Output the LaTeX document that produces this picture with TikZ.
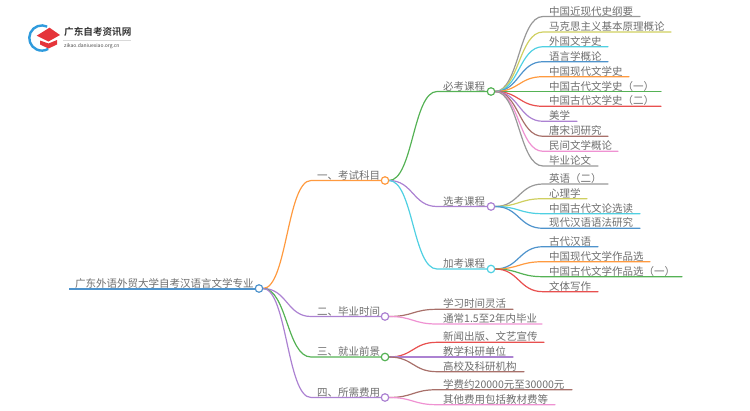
\documentclass[tikz,border=0pt]{standalone}
\usepackage{fontspec}
\setmainfont{Noto Sans CJK SC}[BoldFont={Noto Sans CJK SC Bold}]
\usetikzlibrary{calc}
\definecolor{cgray}{HTML}{989898}
\definecolor{cyel}{HTML}{CFCF60}
\definecolor{ccyan}{HTML}{4FD0E2}
\definecolor{cblue}{HTML}{4E93CC}
\definecolor{corange}{HTML}{FF9A3F}
\definecolor{cgreen}{HTML}{55B255}
\definecolor{cred}{HTML}{E8504F}
\definecolor{cpurple}{HTML}{AC82D2}
\definecolor{cbrown}{HTML}{A8706A}
\definecolor{cpink}{HTML}{EF92D2}
\definecolor{ctext}{HTML}{6E6E6E}
\definecolor{logored}{HTML}{E5343A}
\definecolor{logoblue}{HTML}{2F9BDD}
\tikzset{
  label text/.style={inner sep=0pt,anchor=base west,text=ctext,font=\fontsize{10.5pt}{12pt}\selectfont},
  joint/.style={circle,draw=#1,fill=white,line width=1.2pt,minimum size=7.5pt,inner sep=0pt},
  branch/.style={line width=1.2pt,line cap=round},
  wide branch/.style={line width=2pt},
}
% parent, name, y, end x, colour, text
\newcommand{\twig}[6]{%
  \path (#1) ++(4,0) coordinate (#2-s);
  \path (#1) ++(52,0) coordinate (#2-m);
  \coordinate (#2-a) at (#2-m |- 0,#3);
  \coordinate (#2-e) at (#4,#3);
  \node[label text] (#2) at ($(#2-a)+(6,-1.4)$) {#6};
  \draw[branch,#5] (#2-s) .. controls ($(#2-s)!0.5!(#2-m)$) and ($(#2-s |- #2-a)!0.5!(#2-a)$) .. (#2-a) -- (#2-e);
}
\begin{document}
\begin{tikzpicture}[x=1pt,y=-1pt]
\useasboundingbox (0,0) rectangle (750,410);
% logo
\draw[logoblue,line width=2.4pt] (47.2,26.6) arc[start angle=-65,end angle=-300,radius=12.6];
\fill[logored] (40,40.5) -- (48.5,43.5) -- (57,40) -- (57,44.5) -- (48.5,48.5) -- (40,44.5) -- cycle;
\fill[logored] (36.7,35.7) -- (49.5,27.7) -- (60,35) -- (48.5,41.5) -- cycle;
\node[inner sep=0pt,anchor=west,text=black!80,font=\fontsize{9.6pt}{11pt}\selectfont\bfseries] (logotitle) at (64,31.5) {广东自考资讯网};
\coordinate (rulea) at (63,40);
\coordinate (ruleb) at (131,40);
\draw[black!15,line width=0.5pt] (rulea) -- (ruleb);
\node[inner sep=0pt,anchor=west,text=black!70,font=\fontsize{5pt}{6pt}\selectfont] (logourl) at (64,46.3) {zikao.daniuexiao.org.cn};
% hubs
\coordinate (root) at (259,288.5);
\coordinate (rootstart) at (69,288.5);
\coordinate (one) at (385,180.5);
\coordinate (two) at (385,316.5);
\coordinate (three) at (385,357);
\coordinate (four) at (385,397.5);
\coordinate (must) at (491,91.5);
\coordinate (opt) at (491,206.5);
\coordinate (add) at (491,269);
\draw[wide branch,cblue] (rootstart) -- (root);
\node[label text] (roottext) at (75,287.1) {广东外语外贸大学自考汉语言文学专业};
% level one
\twig{root}{n1}{180.5}{385}{corange}{一、考试科目}
\twig{root}{n2}{316.5}{385}{cpurple}{二、毕业时间}
\twig{root}{n3}{357}{385}{cgreen}{三、就业前景}
\twig{root}{n4}{397.5}{385}{cpurple}{四、所需费用}
% level two
\twig{one}{m1}{91.5}{491}{cgreen}{必考课程}
\twig{one}{m2}{206.5}{491}{cpurple}{选考课程}
\twig{one}{m3}{269}{491}{ccyan}{加考课程}
% must
\twig{must}{a1}{16.5}{640}{cgray}{中国近现代史纲要}
\twig{must}{a2}{32}{671}{cyel}{马克思主义基本原理概论}
\twig{must}{a3}{46.7}{608}{ccyan}{外国文学史}
\twig{must}{a4}{61.7}{608}{cblue}{语言学概论}
\twig{must}{a5}{76.7}{629}{corange}{中国现代文学史}
\twig{must}{a6}{91.5}{661}{cgreen}{中国古代文学史（一）}
\twig{must}{a7}{106.3}{661}{cred}{中国古代文学史（二）}
\twig{must}{a8}{121.3}{577}{cpurple}{美学}
\twig{must}{a9}{136.3}{608}{cbrown}{唐宋词研究}
\twig{must}{a10}{151.3}{618}{cpink}{民间文学概论}
\twig{must}{a11}{166}{598}{cgray}{毕业论文}
% optional
\twig{opt}{b1}{184}{608}{cgray}{英语（二）}
\twig{opt}{b2}{198.7}{587}{cyel}{心理学}
\twig{opt}{b3}{213.7}{640}{ccyan}{中国古代文论选读}
\twig{opt}{b4}{228.3}{640}{cblue}{现代汉语语法研究}
% additional
\twig{add}{c1}{246.7}{598}{cblue}{古代汉语}
\twig{add}{c2}{261.7}{650}{corange}{中国现代文学作品选}
\twig{add}{c3}{276.7}{682}{cgreen}{中国古代文学作品选（一）}
\twig{add}{c4}{291.7}{598}{cred}{文体写作}
% bottom
\twig{two}{d1}{309.3}{513}{cbrown}{学习时间灵活}
\twig{two}{d2}{324}{542}{cpink}{通常1.5至2年内毕业}
\twig{three}{e1}{342.3}{544}{cred}{新闻出版、文艺宣传}
\twig{three}{e2}{357}{513}{cpurple}{教学科研单位}
\twig{three}{e3}{371.7}{524}{cbrown}{高校及科研机构}
\twig{four}{f1}{389.7}{572}{cbrown}{学费约20000元至30000元}
\twig{four}{f2}{404.7}{555}{cpink}{其他费用包括教材费等}
% joints
\node[joint=cblue] (rootdot) at (root) {};
\node[joint=corange] (onedot) at (one) {};
\node[joint=cpurple] (twodot) at (two) {};
\node[joint=cgreen] (threedot) at (three) {};
\node[joint=cpurple] (fourdot) at (four) {};
\node[joint=cgreen] (mustdot) at (must) {};
\node[joint=cpurple] (optdot) at (opt) {};
\node[joint=ccyan] (adddot) at (add) {};
\end{tikzpicture}
\end{document}
